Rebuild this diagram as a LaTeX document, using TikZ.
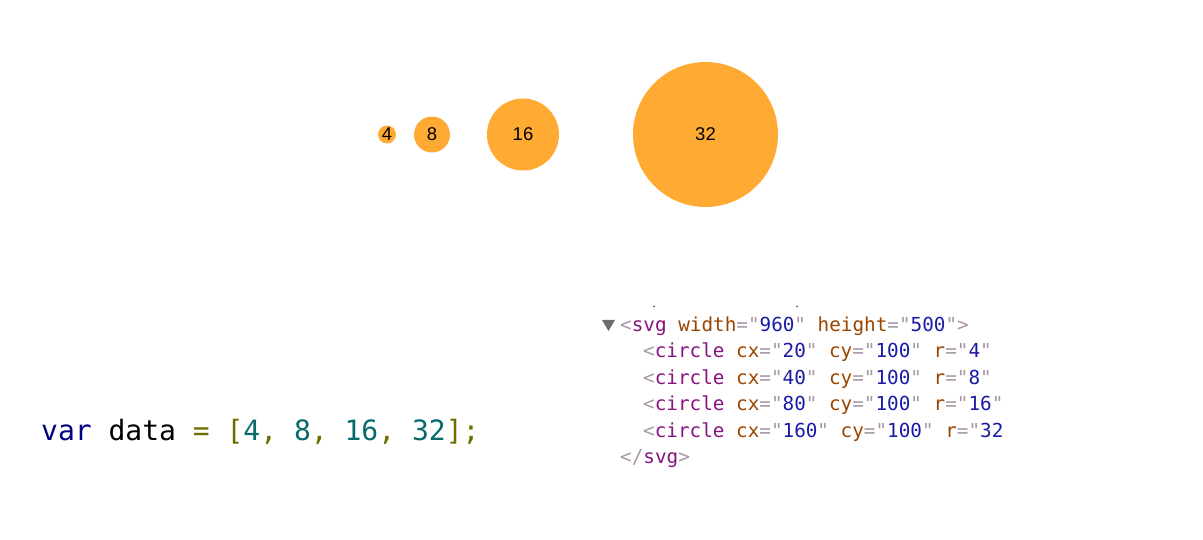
\documentclass[tikz,border=0pt]{standalone}
\usepackage{fontspec}
\setmainfont{Liberation Sans}
\newfontfamily\codefont{DejaVu Sans Mono}
\definecolor{bubble}{RGB}{255,171,51}
\definecolor{tagc}{RGB}{136,18,128}
\definecolor{attrc}{RGB}{153,69,0}
\definecolor{valc}{RGB}{26,26,166}
\definecolor{punc}{RGB}{168,150,166}
\definecolor{kwc}{RGB}{0,0,128}
\definecolor{numc}{RGB}{9,105,107}
\definecolor{opc}{RGB}{112,108,0}
\definecolor{tric}{RGB}{110,110,110}
\newcommand\Tg[1]{\textcolor{tagc}{#1}}
\newcommand\At[1]{\textcolor{attrc}{#1}}
\newcommand\Vl[1]{\textcolor{valc}{#1}}
\newcommand\Pn[1]{\textcolor{punc}{#1}}
\frenchspacing
\begin{document}
\begin{tikzpicture}[x=1pt,y=-1pt,
  bubblenode/.style={circle,fill=bubble,inner sep=0pt,font=\fontsize{18.5}{18.5}\selectfont},
  devline/.style={anchor=base west,inner sep=0pt,font=\codefont\fontsize{19.3}{19.3}\selectfont},
  codeline/.style={anchor=base west,inner sep=0pt,font=\codefont\fontsize{28}{28}\selectfont}]
\useasboundingbox[fill=white] (0,0) rectangle (1203,540);
% bubbles
\node[bubblenode,minimum size=18pt] (c4) at (387,134.5) {\raisebox{-1pt}{4}};
\node[bubblenode,minimum size=36pt] (c8) at (432,134.5) {\raisebox{-1pt}{8}};
\node[bubblenode,minimum size=72pt] (c16) at (523,134.5) {\raisebox{-1pt}{16}};
\node[bubblenode,minimum size=145pt] (c32) at (705.5,134.5) {\raisebox{-1pt}{32}};
% code
\node[codeline] (code) at (41,440) {\textcolor{kwc}{var} data \textcolor{opc}{= [}\textcolor{numc}{4}\textcolor{opc}{,} \textcolor{numc}{8}\textcolor{opc}{,} \textcolor{numc}{16}\textcolor{opc}{,} \textcolor{numc}{32}\textcolor{opc}{];}};
% devtools panel
\fill[tagc] (654,306.5) circle (0.8);
\fill[tagc] (797,306.5) circle (0.8);
\fill[tric] (602,320) -- (615,320) -- (608.5,331) -- cycle;
\begin{scope}
\clip (595,310) rectangle (1003.5,480);
\node[devline] (l1) at (620,331) {\Pn{<}\Tg{svg} \At{width}\Pn{="}\Vl{960}\Pn{"} \At{height}\Pn{="}\Vl{500}\Pn{">}};
\node[devline] (l2) at (643,357.5) {\Pn{<}\Tg{circle} \At{cx}\Pn{="}\Vl{20}\Pn{"} \At{cy}\Pn{="}\Vl{100}\Pn{"} \At{r}\Pn{="}\Vl{4}\Pn{"}};
\node[devline] (l3) at (643,384) {\Pn{<}\Tg{circle} \At{cx}\Pn{="}\Vl{40}\Pn{"} \At{cy}\Pn{="}\Vl{100}\Pn{"} \At{r}\Pn{="}\Vl{8}\Pn{"}};
\node[devline] (l4) at (643,410.5) {\Pn{<}\Tg{circle} \At{cx}\Pn{="}\Vl{80}\Pn{"} \At{cy}\Pn{="}\Vl{100}\Pn{"} \At{r}\Pn{="}\Vl{16}\Pn{"}};
\node[devline] (l5) at (643,437) {\Pn{<}\Tg{circle} \At{cx}\Pn{="}\Vl{160}\Pn{"} \At{cy}\Pn{="}\Vl{100}\Pn{"} \At{r}\Pn{="}\Vl{32}\Pn{"}};
\node[devline] (l6) at (620,463) {\Pn{</}\Tg{svg}\Pn{>}};
\end{scope}
\end{tikzpicture}
\end{document}
